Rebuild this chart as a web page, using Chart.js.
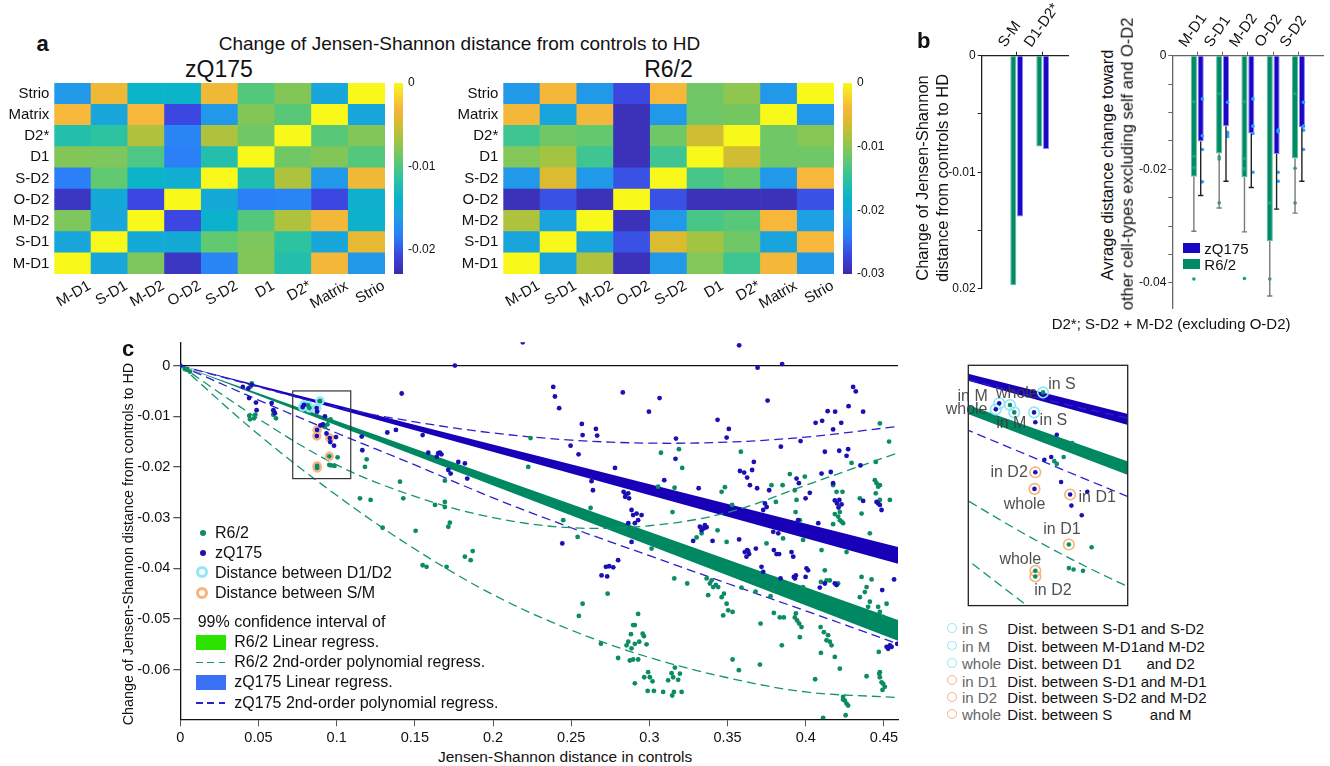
<!DOCTYPE html>
<html>
<head>
<meta charset="utf-8">
<title>Change of Jensen-Shannon distance</title>
<script src="https://cdn.jsdelivr.net/npm/chart.js@4.4.1/dist/chart.umd.min.js"></script>
<style>
  body { margin: 0; width: 1330px; height: 766px; overflow: hidden; background: #fff; position: relative;
         font-family: "Liberation Sans", Arial, Helvetica, sans-serif; color: #111; }
  canvas { position: absolute; }
  .t { position: absolute; white-space: pre; line-height: 1; transform: translateY(-50%); }
  .c { position: absolute; white-space: pre; line-height: 1; transform: translate(-50%, -50%); }
  .v { position: absolute; white-space: pre; line-height: 1; transform: translate(-50%, -50%) rotate(-90deg); }
  .b { font-weight: bold; font-size: 22px; }
  .dot { position: absolute; width: 6px; height: 6px; border-radius: 50%; }
  .ring { position: absolute; border-radius: 50%; border-style: solid; }
  .sw { position: absolute; }
  .dash { position: absolute; height: 1.5px; }
  .g { color: #666; }
</style>
</head>
<body>
<canvas id="heatZq" width="387" height="236" style="left:0;top:82.7px"></canvas>
<canvas id="barZq" width="50" height="207" style="left:394.3px;top:74.7px"></canvas>
<canvas id="heatR6" width="387" height="236" style="left:449px;top:82.7px"></canvas>
<canvas id="barR6" width="50" height="207" style="left:843.3px;top:74.7px"></canvas>
<canvas id="bLeft" width="143" height="300" style="left:930px;top:0"></canvas>
<canvas id="bRight" width="210" height="320" style="left:1120px;top:0"></canvas>
<canvas id="cMain" width="805" height="416" style="left:100px;top:330px"></canvas>
<canvas id="cInset" width="205" height="260" style="left:930px;top:355px"></canvas>

<div class="c b" style="left:42.5px;top:44px">a</div>
<div class="c" style="left:459.5px;top:42.7px;font-size:19px">Change of Jensen-Shannon distance from controls to HD</div>
<div class="c" style="left:219px;top:69.3px;font-size:23px">zQ175</div>
<div class="c" style="left:668.5px;top:69.3px;font-size:23px">R6/2</div>

<div class="c b" style="left:923.7px;top:41px">b</div>
<div class="v" style="left:921.7px;top:177.5px;font-size:16.5px">Change of Jensen-Shannon</div>
<div class="v" style="left:941.7px;top:177.5px;font-size:16.5px">distance from controls to HD</div>
<div class="v" style="left:1106.7px;top:164.5px;font-size:16.5px">Avrage distance change toward</div>
<div class="v" style="left:1126.7px;top:164px;font-size:16.5px">other cell-types excluding self and O-D2</div>
<div class="sw" style="left:1182.7px;top:243.3px;width:17.3px;height:9.4px;background:#1a07c4"></div>
<div class="t" style="left:1204.3px;top:248px;font-size:15px">zQ175</div>
<div class="sw" style="left:1182.7px;top:259.3px;width:17.3px;height:9.4px;background:#008a66"></div>
<div class="t" style="left:1204.3px;top:264px;font-size:15px">R6/2</div>
<div class="t" style="left:1051.7px;top:322.7px;font-size:15px">D2*; S-D2 + M-D2 (excluding O-D2)</div>

<div class="c b" style="left:128px;top:348.5px">c</div>
<div class="v" style="left:128.3px;top:544px;font-size:14.3px">Change of Jensen-Shannon distance from controls to HD</div>
<div class="t" style="left:438px;top:757px;font-size:15.5px">Jensen-Shannon distance in controls</div>

<div class="dot" style="left:199.7px;top:530.3px;background:#0b8c65"></div>
<div class="t" style="left:215px;top:533.3px;font-size:16px">R6/2</div>
<div class="dot" style="left:199.7px;top:549.7px;background:#1a10b4"></div>
<div class="t" style="left:215px;top:552.7px;font-size:16px">zQ175</div>
<div class="ring" style="left:196.2px;top:566.2px;width:6px;height:6px;border-width:3.5px;border-color:#8fe6f8"></div>
<div class="t" style="left:215px;top:572.7px;font-size:16px">Distance between D1/D2</div>
<div class="ring" style="left:196.2px;top:586.8px;width:6px;height:6px;border-width:3.5px;border-color:#f8b27c"></div>
<div class="t" style="left:215px;top:593.3px;font-size:16px">Distance between S/M</div>
<div class="t" style="left:197.7px;top:621.7px;font-size:16px">99% confidence interval of</div>
<div class="sw" style="left:196px;top:635px;width:29.7px;height:15px;background:#2ce300"></div>
<div class="t" style="left:234.3px;top:642.3px;font-size:16px">R6/2 Linear regress.</div>
<div class="dash" style="left:196px;top:661.5px;width:29px;background:repeating-linear-gradient(90deg,#12956b 0 7px,transparent 7px 11.5px)"></div>
<div class="t" style="left:234.3px;top:662.3px;font-size:16px">R6/2 2nd-order polynomial regress.</div>
<div class="sw" style="left:196px;top:675px;width:29.7px;height:15px;background:#3b72f5"></div>
<div class="t" style="left:234.3px;top:682.3px;font-size:16px">zQ175 Linear regress.</div>
<div class="dash" style="left:196px;top:702px;width:29px;background:repeating-linear-gradient(90deg,#2a20cc 0 7px,transparent 7px 11.5px)"></div>
<div class="t" style="left:234.3px;top:702.7px;font-size:16px">zQ175 2nd-order polynomial regress.</div>

<div class="ring" style="left:947px;top:623px;width:7.7px;height:7.7px;border-width:1.5px;border-color:#8fe6f8"></div>
<div class="t g" style="left:962px;top:628.3px;font-size:15px">in S</div>
<div class="t" style="left:1007.3px;top:628.3px;font-size:15px">Dist. between S-D1 and S-D2</div>
<div class="ring" style="left:947px;top:640.7px;width:7.7px;height:7.7px;border-width:1.5px;border-color:#8fe6f8"></div>
<div class="t g" style="left:962px;top:646px;font-size:15px">in M</div>
<div class="t" style="left:1007.3px;top:646px;font-size:15px">Dist. between M-D1and M-D2</div>
<div class="ring" style="left:947px;top:658px;width:7.7px;height:7.7px;border-width:1.5px;border-color:#8fe6f8"></div>
<div class="t g" style="left:962px;top:663.3px;font-size:15px">whole</div>
<div class="t" style="left:1007.3px;top:663.3px;font-size:15px">Dist. between D1      and D2</div>
<div class="ring" style="left:947px;top:675.4px;width:7.7px;height:7.7px;border-width:1.5px;border-color:#f8b27c"></div>
<div class="t g" style="left:962px;top:680.7px;font-size:15px">in D1</div>
<div class="t" style="left:1007.3px;top:680.7px;font-size:15px">Dist. between S-D1 and M-D1</div>
<div class="ring" style="left:947px;top:692px;width:7.7px;height:7.7px;border-width:1.5px;border-color:#f8b27c"></div>
<div class="t g" style="left:962px;top:697.3px;font-size:15px">in D2</div>
<div class="t" style="left:1007.3px;top:697.3px;font-size:15px">Dist. between S-D2 and M-D2</div>
<div class="ring" style="left:947px;top:709px;width:7.7px;height:7.7px;border-width:1.5px;border-color:#f8b27c"></div>
<div class="t g" style="left:962px;top:714.3px;font-size:15px">whole</div>
<div class="t" style="left:1007.3px;top:714.3px;font-size:15px">Dist. between S         and M</div>

<script>
Chart.defaults.font.family = '"Liberation Sans", Arial, Helvetica, sans-serif';
Chart.defaults.color = '#111';
Chart.defaults.responsive = false;
Chart.defaults.animation = false;
Chart.defaults.events = [];
Chart.defaults.plugins.legend.display = false;
Chart.defaults.plugins.tooltip.enabled = false;

// ---------- panel a: distance change matrices ----------
var cellTypes = ['M-D1', 'S-D1', 'M-D2', 'O-D2', 'S-D2', 'D1', 'D2*', 'Matrix', 'Strio'];
// rows from top of the map (Strio) down to M-D1, columns in cellTypes order
var zq175Map = [
  [-0.0165, -0.0034, -0.0137, -0.0137, -0.0034, -0.0098, -0.0080, -0.0153, 0],
  [-0.0030, -0.0153, -0.0030, -0.0206, -0.0165, -0.0080, -0.0096, 0, -0.0153],
  [-0.0121, -0.0115, -0.0064, -0.0179, -0.0064, -0.0087, 0, -0.0096, -0.0080],
  [-0.0080, -0.0082, -0.0101, -0.0183, -0.0121, 0, -0.0087, -0.0080, -0.0098],
  [-0.0183, -0.0092, -0.0137, -0.0144, 0, -0.0124, -0.0064, -0.0165, -0.0034],
  [-0.0218, -0.0149, -0.0206, 0, -0.0149, -0.0183, -0.0179, -0.0206, -0.0142],
  [-0.0082, -0.0153, 0, -0.0206, -0.0140, -0.0098, -0.0064, -0.0032, -0.0140],
  [-0.0153, 0, -0.0149, -0.0147, -0.0092, -0.0082, -0.0115, -0.0153, -0.0039],
  [0, -0.0153, -0.0082, -0.0218, -0.0179, -0.0080, -0.0121, -0.0032, -0.0165]
];
var r62Map = [
  [-0.0216, -0.0042, -0.0216, -0.0270, -0.0039, -0.0114, -0.0099, -0.0216, 0],
  [-0.0042, -0.0201, -0.0042, -0.0291, -0.0216, -0.0114, -0.0111, 0, -0.0216],
  [-0.0141, -0.0114, -0.0120, -0.0291, -0.0114, -0.0066, 0, -0.0114, -0.0102],
  [-0.0105, -0.0090, -0.0141, -0.0291, -0.0141, 0, -0.0066, -0.0114, -0.0114],
  [-0.0216, -0.0060, -0.0216, -0.0264, 0, -0.0135, -0.0120, -0.0216, -0.0039],
  [-0.0291, -0.0264, -0.0291, 0, -0.0264, -0.0291, -0.0291, -0.0291, -0.0264],
  [-0.0084, -0.0204, 0, -0.0291, -0.0216, -0.0135, -0.0126, -0.0039, -0.0210],
  [-0.0201, 0, -0.0201, -0.0264, -0.0060, -0.0090, -0.0114, -0.0201, -0.0039],
  [0, -0.0201, -0.0084, -0.0291, -0.0216, -0.0105, -0.0141, -0.0042, -0.0216]
];
var zq175Min = -0.0229;
var r62Min = -0.03;
var zq175BarTicks = [0, -0.01, -0.02];
var r62BarTicks = [0, -0.01, -0.02, -0.03];

// ---------- panel b ----------
var bLeftCats = ['S-M', 'D1-D2*'];
var bLeftR62 = [-0.0197, -0.0078];
var bLeftZq175 = [-0.0138, -0.0080];
var bLeftTickVals = [0, -0.005, -0.01, -0.015, -0.02];
var bLeftTickText = ['0', '', '-0.01', '', '0.02'];

var bRightCats = ['M-D1', 'S-D1', 'M-D2', 'O-D2', 'S-D2'];
var bRightR62 = [-0.0213, -0.0172, -0.0214, -0.0326, -0.0181];
var bRightZq175 = [-0.0151, -0.0124, -0.0137, -0.0173, -0.0126];
var bRightR62Low = [-0.0309, -0.0268, -0.0310, -0.0423, -0.0277];
var bRightZq175Low = [-0.0246, -0.0221, -0.0232, -0.0270, -0.0221];
var bRightR62Dots = [
  [-0.0081, -0.0177, -0.0197, -0.0393],
  [-0.0067, -0.0178, -0.0182, -0.0259],
  [-0.0081, -0.0181, -0.0199, -0.0392],
  [-0.0259, -0.0393],
  [-0.0067, -0.0198, -0.0259]
];
var bRightZq175Dots = [
  [-0.0076, -0.0141, -0.0165, -0.0222],
  [-0.0082, -0.0135, -0.0138, -0.0142],
  [-0.0076, -0.0124, -0.0137, -0.0205],
  [-0.0131, -0.0134, -0.0205, -0.0221],
  [-0.0082, -0.0124, -0.0131, -0.0165]
];
var bRightTickVals = [0, -0.005, -0.01, -0.015, -0.02, -0.025, -0.03, -0.035, -0.04];
var bRightTickText = ['0', '', '', '', '-0.02', '', '', '', '-0.04'];

// ---------- panel c ----------
var xTickVals = [0, 0.05, 0.1, 0.15, 0.2, 0.25, 0.3, 0.35, 0.4, 0.45];
var xTickText = ['0', '0.05', '0.1', '0.15', '0.2', '0.25', '0.3', '0.35', '0.4', '0.45'];
var yTickVals = [0, -0.01, -0.02, -0.03, -0.04, -0.05, -0.06];
var yTickText = ['0', '-0.01', '-0.02', '-0.03', '-0.04', '-0.05', '-0.06'];

var linX = [0, 0.459];
var r62LinHi = [0, -0.0502];
var r62LinLo = [0, -0.0543];
var zq175LinHi = [0, -0.0358];
var zq175LinLo = [0, -0.0391];

var polyX = [0, 0.05, 0.1, 0.15, 0.2, 0.25, 0.3, 0.35, 0.4, 0.459];
var r62PolyHi = [0, -0.0105, -0.0196, -0.0258, -0.0300, -0.0320, -0.0316, -0.0290, -0.0236, -0.0172];
var r62PolyLo = [0, -0.0136, -0.0256, -0.0362, -0.0452, -0.0522, -0.0576, -0.0616, -0.0644, -0.0655];
var zq175PolyHi = [0, -0.0042, -0.0082, -0.0111, -0.0133, -0.0147, -0.0153, -0.0151, -0.0141, -0.0120];
var zq175PolyLo = [0, -0.0068, -0.0133, -0.0196, -0.0261, -0.0320, -0.0375, -0.0430, -0.0484, -0.0549];

var zq175Points = [
  [0, 0], [0.040, -0.0042], [0.0435, -0.0045], [0.0457, -0.0038], [0.044, -0.0064], [0.0484, -0.0073],
  [0.0488, -0.0088], [0.0584, -0.0074], [0.0595, -0.0088], [0.0605, -0.0094],
  [0.0791, -0.00774], [0.0783, -0.00817], [0.0872, -0.00839], [0.0875, -0.0127], [0.0873, -0.0139],
  [0.0956, -0.0143], [0.0875, -0.0091], [0.0925, -0.0100], [0.0912, -0.0116], [0.0896, -0.0118],
  [0.0935, -0.0134], [0.0996, -0.0141], [0.0959, -0.0151], [0.0983, -0.0158],
  [0.116, -0.0140], [0.1164, -0.0167], [0.1324, -0.0132], [0.1379, -0.0127], [0.1416, -0.0055],
  [0.155, -0.0137], [0.1586, -0.0172], [0.164, -0.0180], [0.165, -0.0173], [0.166, -0.0172],
  [0.167, -0.0175], [0.1714, -0.0206], [0.1729, -0.0213], [0.1778, -0.0190], [0.182, -0.0193],
  [0.1835, -0.0223], [0.1756, 0.0],
  [0.219, 0.0046], [0.2385, -0.0042], [0.2396, -0.0061], [0.2423, -0.0084], [0.2443, -0.0351],
  [0.2496, -0.0158], [0.2547, -0.0175], [0.2568, -0.0115], [0.2573, -0.0137], [0.2658, -0.0125],
  [0.2666, -0.0138], [0.263, -0.0228], [0.2639, -0.0246], [0.278, -0.0202], [0.283, -0.0053],
  [0.2835, -0.0249], [0.285, -0.0254], [0.2865, -0.0252], [0.2845, -0.0259], [0.287, -0.0262],
  [0.2886, -0.0285], [0.2896, -0.0295], [0.2918, -0.0292], [0.2928, -0.0305], [0.2907, -0.0311],
  [0.295, -0.0295], [0.2865, -0.0311], [0.2886, -0.0348],
  [0.2694, -0.0414], [0.2722, -0.0397], [0.2743, -0.0396], [0.2769, -0.0398], [0.273, -0.0416], [0.28, -0.0384],
  [0.2997, -0.0091], [0.3065, -0.0064], [0.3095, -0.0226], [0.317, -0.0144], [0.3167, -0.0184],
  [0.328, -0.0346], [0.3315, -0.0242], [0.3323, -0.0318], [0.3334, -0.0325], [0.3355, -0.0315],
  [0.3366, -0.0319], [0.3349, -0.0321], [0.3404, -0.0346],
  [0.3436, -0.0107], [0.3494, -0.0142], [0.3508, -0.0125], [0.3574, 0.0040], [0.3574, -0.0343],
  [0.3579, -0.0208], [0.3606, -0.0211], [0.3625, -0.0221], [0.3643, -0.0236], [0.3668, -0.0190],
  [0.3689, -0.0242], [0.3657, -0.0206],
  [0.361, -0.0368], [0.3625, -0.0364], [0.3638, -0.0372], [0.3621, -0.0377], [0.3681, -0.0361], [0.3632, -0.0366],
  [0.3692, -0.0004], [0.3739, -0.0272], [0.3728, -0.0285], [0.375, -0.0279], [0.3756, -0.0069],
  [0.3766, -0.0246], [0.3792, -0.0328], [0.3824, -0.0331], [0.3796, -0.0364], [0.3813, -0.0372],
  [0.383, -0.0372], [0.3839, -0.0420], [0.3717, -0.0397], [0.3728, -0.0407],
  [0.3841, -0.0160], [0.3849, 0.0003],
  [0.3909, -0.0368], [0.392, -0.0377], [0.3924, -0.0417], [0.3937, -0.0414], [0.3931, -0.0420],
  [0.3951, -0.0305], [0.3941, -0.0223], [0.3956, -0.0232], [0.4005, -0.0400], [0.4015, -0.0404], [0.3999, -0.0417],
  [0.3967, -0.0149], [0.3999, -0.0262], [0.4026, -0.0251], [0.408, -0.0311],
  [0.4063, -0.0113], [0.4105, -0.0109], [0.414, -0.0090], [0.4188, -0.0091], [0.4227, -0.0113],
  [0.4175, -0.0126], [0.4274, -0.0080], [0.4303, -0.0042], [0.432, -0.0051], [0.4367, -0.0091],
  [0.4122, -0.0170], [0.4214, -0.0168], [0.4261, -0.0178], [0.4271, -0.0165], [0.435, -0.0197],
  [0.4101, -0.0213], [0.416, -0.0210], [0.4175, -0.0232],
  [0.4186, -0.0266], [0.42, -0.0272], [0.4215, -0.0265], [0.4229, -0.0274], [0.421, -0.0280], [0.4367, -0.0267],
  [0.4453, -0.0269], [0.4474, -0.0275], [0.4485, -0.0285], [0.4463, -0.0272],
  [0.409, -0.0438], [0.4122, -0.0430], [0.4197, -0.0433], [0.4186, -0.0430], [0.4489, -0.0443], [0.4565, -0.0422],
  [0.4517, -0.0555], [0.4527, -0.0559], [0.4538, -0.0552], [0.4549, -0.0555], [0.4585, -0.0549]
];

var r62Points = [
  [0.003, -0.0007], [0.0045, -0.0008], [0.0062, -0.0012], [0.0457, -0.0035], [0.045, -0.0041],
  [0.0441, -0.0099], [0.0446, -0.0106], [0.048, -0.0097], [0.0471, -0.0104],
  [0.0599, -0.0091], [0.0612, -0.0104], [0.0595, -0.0097],
  [0.0816, -0.00786], [0.0826, -0.00839], [0.0893, -0.00695], [0.0953, -0.0179], [0.0875, -0.0198],
  [0.0875, -0.0202], [0.0961, -0.0106], [0.0941, -0.0116], [0.0919, -0.0119], [0.0925, -0.0121],
  [0.1006, -0.0181], [0.0953, -0.0196], [0.0964, -0.0197], [0.0986, -0.0198],
  [0.1192, -0.0185], [0.1181, -0.0200], [0.1149, -0.0262], [0.1217, -0.0265], [0.1294, -0.0320],
  [0.1405, -0.0229], [0.1426, -0.0262], [0.1505, -0.0326], [0.155, -0.0394], [0.1575, -0.0397],
  [0.1629, -0.0275], [0.1692, -0.0269], [0.1692, -0.0279], [0.1692, -0.0227], [0.1714, -0.0318],
  [0.1724, -0.0310], [0.1703, -0.0397], [0.182, -0.0377], [0.1857, -0.0384], [0.187, -0.0366],
  [0.2225, -0.0200], [0.224, -0.0143], [0.2449, -0.0305], [0.2541, -0.0338], [0.2573, -0.0470],
  [0.2549, -0.0494], [0.2624, -0.0281], [0.269, -0.0549], [0.2733, -0.0450], [0.28, -0.0577],
  [0.2854, -0.0552], [0.2865, -0.0545], [0.2882, -0.0530], [0.2886, -0.0558], [0.2896, -0.0512],
  [0.2907, -0.0512], [0.2907, -0.0549], [0.2928, -0.0490], [0.2935, -0.0545], [0.2957, -0.0529],
  [0.2965, -0.0534], [0.2982, -0.0550], [0.2875, -0.0582], [0.2896, -0.0580], [0.2928, -0.0580], [0.2907, -0.0627],
  [0.2967, -0.0615], [0.2992, -0.0605], [0.3003, -0.0615], [0.302, -0.0623], [0.2989, -0.0642],
  [0.3029, -0.0642], [0.3088, -0.0644],
  [0.3014, -0.0361], [0.3056, -0.0239], [0.3074, -0.0172], [0.3148, -0.0289],
  [0.312, -0.0621], [0.3152, -0.0615], [0.3142, -0.0607], [0.3163, -0.0596], [0.3184, -0.0620],
  [0.3195, -0.0608], [0.3146, -0.0651], [0.3157, -0.0644], [0.3206, -0.0644],
  [0.3159, -0.0420], [0.3189, -0.0165], [0.321, -0.0202], [0.3161, -0.0241], [0.3242, -0.0430],
  [0.3302, -0.0339], [0.3334, -0.0331],
  [0.3366, -0.0420], [0.3387, -0.0430], [0.3408, -0.0437], [0.3425, -0.0433], [0.344, -0.0437], [0.3398, -0.0424],
  [0.3376, -0.0453], [0.3462, -0.0457], [0.3477, -0.0450], [0.3494, -0.0470], [0.3504, -0.0483],
  [0.3472, -0.0493], [0.3532, -0.0486],
  [0.3436, -0.0325], [0.3462, -0.0249], [0.3483, -0.0240], [0.3494, -0.0348], [0.3529, -0.0275],
  [0.3532, -0.0580], [0.3572, -0.0601], [0.3585, -0.0170],
  [0.3589, -0.0438], [0.3664, -0.0423], [0.3679, -0.0446], [0.3711, -0.0509], [0.3749, -0.0351],
  [0.3796, -0.0488], [0.3834, -0.0497], [0.386, -0.0497], [0.3775, -0.0455], [0.3788, -0.0443], [0.3809, -0.0430],
  [0.3707, -0.0590], [0.3781, -0.0236], [0.3852, -0.0236], [0.3898, -0.0214], [0.3809, -0.0269],
  [0.393, -0.0246], [0.3941, -0.0265], [0.3847, -0.0552], [0.3855, -0.0341],
  [0.3937, -0.0489], [0.3945, -0.0503], [0.3958, -0.0509], [0.3973, -0.0516], [0.393, -0.0497], [0.3962, -0.0536],
  [0.3983, -0.0437], [0.3994, -0.0219], [0.3983, -0.0344], [0.3935, -0.0289], [0.3962, -0.0305],
  [0.4101, -0.0364], [0.4097, -0.0427], [0.4122, -0.0404], [0.4133, -0.0424], [0.4154, -0.0424],
  [0.4095, -0.0516], [0.4116, -0.0526], [0.4143, -0.0532], [0.4154, -0.0545], [0.4165, -0.0552], [0.4133, -0.0542],
  [0.4097, -0.0567], [0.406, -0.0619], [0.4111, -0.0695],
  [0.4175, -0.0236], [0.4197, -0.0249], [0.4235, -0.0249], [0.4186, -0.0293], [0.4207, -0.0298],
  [0.4218, -0.0305], [0.4229, -0.0308], [0.4239, -0.0311], [0.4218, -0.0289], [0.4175, -0.0313],
  [0.4186, -0.0575], [0.4218, -0.0598], [0.4239, -0.0654], [0.425, -0.0661], [0.4261, -0.0667],
  [0.4271, -0.0671], [0.4255, -0.0690], [0.4239, -0.0659],
  [0.4261, -0.0368], [0.4207, -0.0430], [0.4293, -0.0192], [0.4346, -0.0262], [0.4357, -0.0292],
  [0.4357, -0.0417], [0.4346, -0.0457], [0.4378, -0.0447], [0.4389, -0.0437], [0.441, -0.0466],
  [0.4421, -0.0422], [0.4399, -0.0476], [0.441, -0.0331], [0.4389, -0.0613],
  [0.4442, -0.0226], [0.4453, -0.0232], [0.4463, -0.0239], [0.4474, -0.0236], [0.4448, -0.0252],
  [0.4474, -0.0114], [0.4448, -0.0190], [0.4474, -0.0265], [0.4533, -0.0150], [0.4538, -0.0265],
  [0.4463, -0.0476], [0.4474, -0.0486], [0.4517, -0.0470], [0.4495, -0.0496],
  [0.4467, -0.0565], [0.447, -0.0608], [0.4474, -0.0615], [0.4485, -0.0625], [0.4495, -0.0628],
  [0.4506, -0.0634], [0.4491, -0.0640], [0.4474, -0.0605]
];

// points ringed as distances between D1/D2 (cyan) and between S/M (orange)
var d1d2Pairs = [[0.0791, -0.00774], [0.0783, -0.00817], [0.0872, -0.00839], [0.0816, -0.00786], [0.0826, -0.00839], [0.0893, -0.00695]];
var smPairs = [[0.0875, -0.0127], [0.0873, -0.0139], [0.0956, -0.0143], [0.0953, -0.0179], [0.0875, -0.0198], [0.0875, -0.0202]];

// zoomed region [xMin, xMax, yMin, yMax]
var zoomBox = [0.0719, 0.109, -0.0223, -0.005];
var insetLabels = [
  ['in M', 0.0729, -0.00726], ['whole', 0.0715, -0.00817], ['whole', 0.0832, -0.00702], ['in S', 0.0937, -0.00642],
  ['in M', 0.0819, -0.00918], ['in S', 0.0917, -0.00899], ['in D2', 0.0814, -0.01274], ['whole', 0.0850, -0.0150],
  ['in D1', 0.1019, -0.01451], ['in D1', 0.0937, -0.0168], ['whole', 0.0840, -0.01896], ['in D2', 0.0916, -0.0212]
];

var GREEN = '#008a66', BLUE = '#1a07c4';
var GREEN_BAND = '#008862', BLUE_BAND = '#1700b8';
var GREEN_DOT = '#0b8c65', BLUE_DOT = '#1a10b4';
var GREEN_DASH = '#12956b', BLUE_DASH = '#2a20cc';
var CYAN = '#8fe6f8', ORANGE = '#f8b27c';

// colormap (low -> high), similar to parula
var parula = [
  [0.00, '#3b2aa8'], [0.10, '#3c46e0'], [0.20, '#2b7ff7'], [0.30, '#1f9fe4'], [0.40, '#0ab4c9'],
  [0.50, '#2ec3a0'], [0.60, '#62c96e'], [0.70, '#a2c442'], [0.80, '#dcbb30'], [0.87, '#f7b73a'], [1.00, '#f8f81a']
];

function hex(c) { return [1, 3, 5].map(function (i) { return parseInt(c.slice(i, i + 2), 16); }); }
function colorAt(t) {
  t = Math.max(0, Math.min(1, t));
  for (var i = 1; i < parula.length; i++) {
    if (t <= parula[i][0]) {
      var t0 = parula[i - 1][0], t1 = parula[i][0];
      var a = hex(parula[i - 1][1]), b = hex(parula[i][1]);
      var f = (t - t0) / (t1 - t0);
      return 'rgb(' + a.map(function (v, k) { return Math.round(v + (b[k] - v) * f); }).join(',') + ')';
    }
  }
  return parula[parula.length - 1][1];
}

function heatmap(id, rows, vmin) {
  var bottomUp = rows.slice().reverse();
  new Chart(document.getElementById(id), {
    type: 'bar',
    data: {
      labels: cellTypes,
      datasets: bottomUp.map(function (row) {
        return {
          data: row.map(function () { return 1; }),
          backgroundColor: row.map(function (v) { return colorAt(1 - v / vmin); }),
          borderWidth: 0, barPercentage: 1, categoryPercentage: 1
        };
      })
    },
    options: {
      layout: { padding: { right: 2 } },
      scales: {
        x: {
          stacked: true,
          grid: { display: false, drawTicks: false }, border: { display: false },
          ticks: { font: { size: 15 }, minRotation: 30, maxRotation: 30, labelOffset: 17, padding: 3, autoSkip: false },
          afterFit: function (s) { s.height = 45; s.paddingLeft = 0; s.paddingRight = 0; }
        },
        y: {
          stacked: true, min: 0, max: cellTypes.length,
          grid: { display: false, drawTicks: false }, border: { display: false },
          afterBuildTicks: function (s) { s.ticks = cellTypes.map(function (n, i) { return { value: i + 0.5 }; }); },
          ticks: { font: { size: 15 }, padding: 5, autoSkip: false, callback: function (v, i) { return cellTypes[i]; } },
          afterFit: function (s) { s.width = 54.3; s.paddingTop = 0; s.paddingBottom = 0; }
        }
      }
    }
  });
}

function colorbar(id, vmin, ticks) {
  new Chart(document.getElementById(id), {
    type: 'bar',
    data: { labels: [''], datasets: [{ data: [] }] },
    options: {
      layout: { padding: { top: 8, bottom: 8 } },
      scales: {
        x: { display: false },
        y: {
          position: 'right', min: vmin, max: 0,
          grid: { display: false, drawTicks: false }, border: { display: false },
          afterBuildTicks: function (s) { s.ticks = ticks.map(function (v) { return { value: v }; }); },
          ticks: { font: { size: 12 }, padding: 5, callback: function (v) { return v === 0 ? '0' : v.toFixed(2); } },
          afterFit: function (s) { s.width = 41; s.paddingTop = 0; s.paddingBottom = 0; }
        }
      }
    },
    plugins: [{
      id: 'gradient',
      beforeDatasetsDraw: function (chart) {
        var ctx = chart.ctx, a = chart.chartArea, y = chart.scales.y;
        var g = ctx.createLinearGradient(0, y.getPixelForValue(vmin), 0, y.getPixelForValue(0));
        parula.forEach(function (s) { g.addColorStop(s[0], s[1]); });
        ctx.save(); ctx.fillStyle = g; ctx.fillRect(a.left, a.top, a.right - a.left, a.bottom - a.top); ctx.restore();
      }
    }]
  });
}

heatmap('heatZq', zq175Map, zq175Min);
heatmap('heatR6', r62Map, r62Min);
colorbar('barZq', zq175Min, zq175BarTicks);
colorbar('barR6', r62Min, r62BarTicks);

// ---------- panel b ----------
function dotData(groups, shift) {
  var out = [];
  groups.forEach(function (g, i) { g.forEach(function (v) { out.push({ x: i + shift, y: v }); }); });
  return out;
}
function barData(vals) { return vals.map(function (v, i) { return { x: i, y: v }; }); }

function barScales(cats, xMin, xMax, yMin, tickVals, tickText, yWidth, axisColor) {
  return {
    x: {
      type: 'linear', position: 'top', min: xMin, max: xMax, offset: false,
      afterBuildTicks: function (s) { s.ticks = cats.map(function (c, i) { return { value: i }; }); },
      ticks: { font: { size: 15 }, minRotation: 55, maxRotation: 55, padding: 1, autoSkip: false,
               callback: function (v, i) { return cats[i]; } },
      grid: { drawOnChartArea: false, offset: false, tickLength: 4, color: axisColor },
      border: { color: axisColor, width: 1.3 },
      afterFit: function (s) { s.height = 55.7; s.paddingLeft = 0; s.paddingRight = 0; }
    },
    y: {
      min: yMin, max: 0,
      afterBuildTicks: function (s) { s.ticks = tickVals.map(function (v) { return { value: v }; }); },
      ticks: { font: { size: 12 }, padding: 2, autoSkip: false, callback: function (v, i) { return tickText[i]; } },
      grid: { drawOnChartArea: false, tickLength: 4, color: axisColor },
      border: { color: axisColor, width: 1.3 },
      afterFit: function (s) { s.width = yWidth; s.paddingTop = 0; s.paddingBottom = 0; }
    }
  };
}

new Chart(document.getElementById('bLeft'), {
  type: 'bar',
  data: {
    datasets: [
      { data: barData(bLeftR62), backgroundColor: GREEN, borderColor: '#5dbd9b', borderWidth: 1,
        categoryPercentage: 0.52, barPercentage: 0.9 },
      { data: barData(bLeftZq175), backgroundColor: BLUE, borderColor: '#8a80ff', borderWidth: 1,
        categoryPercentage: 0.52, barPercentage: 0.9 }
    ]
  },
  options: {
    layout: { padding: { right: 4.7, bottom: 11.3 } },
    scales: barScales(bLeftCats, -1.346, 1.985, -0.02, bLeftTickVals, bLeftTickText, 51.7, '#222')
  }
});

new Chart(document.getElementById('bRight'), {
  type: 'bar',
  data: {
    datasets: [
      { type: 'scatter', data: dotData(bRightR62Dots, -0.135), backgroundColor: '#17a673', borderWidth: 0, pointRadius: 1.8, order: 0 },
      { type: 'scatter', data: dotData(bRightZq175Dots, 0.2), backgroundColor: '#2f9dff', borderWidth: 0, pointRadius: 1.8, order: 0 },
      { data: barData(bRightR62), backgroundColor: GREEN, borderColor: '#5dbd9b', borderWidth: 1,
        categoryPercentage: 0.54, barPercentage: 0.9, order: 1 },
      { data: barData(bRightZq175), backgroundColor: BLUE, borderColor: '#8a80ff', borderWidth: 1,
        categoryPercentage: 0.54, barPercentage: 0.9, order: 1 }
    ]
  },
  options: {
    layout: { padding: { right: 7, bottom: 12 } },
    scales: barScales(bRightCats, -0.988, 4.97, -0.0444, bRightTickVals, bRightTickText, 52.3, '#666')
  },
  plugins: [{
    id: 'errorBars',
    afterDatasetsDraw: function (chart) {
      var ctx = chart.ctx, y = chart.scales.y;
      [[2, bRightR62Low, '#7a7a7a'], [3, bRightZq175Low, '#222']].forEach(function (set) {
        chart.getDatasetMeta(set[0]).data.forEach(function (bar, i) {
          var y1 = y.getPixelForValue(set[1][i]);
          ctx.save(); ctx.strokeStyle = set[2]; ctx.lineWidth = 1.4;
          ctx.beginPath(); ctx.moveTo(bar.x, bar.y); ctx.lineTo(bar.x, y1);
          ctx.moveTo(bar.x - 2.6, y1); ctx.lineTo(bar.x + 2.6, y1); ctx.stroke(); ctx.restore();
        });
      });
    }
  }]
});

// ---------- panel c ----------
function cSets(dotR, ringR, ringW) {
  function xy(pairs) { return pairs.map(function (p) { return { x: p[0], y: p[1] }; }); }
  function curve(xs, ys) { return xs.map(function (x, i) { return { x: x, y: ys[i] }; }); }
  function band(hi, lo, color) {
    return [
      { type: 'line', data: curve(linX, hi), borderColor: 'transparent', borderWidth: 0, pointRadius: 0, fill: false, order: 6 },
      { type: 'line', data: curve(linX, lo), borderColor: 'transparent', borderWidth: 0, pointRadius: 0, fill: '-1',
        backgroundColor: color, order: 6 }
    ];
  }
  function dashed(ys, color) {
    return { type: 'line', data: curve(polyX, ys), borderColor: color, borderWidth: 1.3, borderDash: [9, 5],
             tension: 0.35, pointRadius: 0, fill: false, order: 5 };
  }
  function dots(pairs, color, order) {
    return { type: 'scatter', data: xy(pairs), backgroundColor: color, borderWidth: 0, pointRadius: dotR, order: order };
  }
  function rings(pairs, color) {
    return { type: 'scatter', data: xy(pairs), backgroundColor: 'rgba(0,0,0,0)', borderColor: color,
             borderWidth: ringW, pointRadius: ringR, order: 4 };
  }
  return band(r62LinHi, r62LinLo, GREEN_BAND)
    .concat(band(zq175LinHi, zq175LinLo, BLUE_BAND))
    .concat([
      dashed(r62PolyHi, GREEN_DASH), dashed(r62PolyLo, GREEN_DASH),
      dashed(zq175PolyHi, BLUE_DASH), dashed(zq175PolyLo, BLUE_DASH),
      rings(d1d2Pairs, CYAN), rings(smPairs, ORANGE),
      dots(r62Points, GREEN_DOT, 3), dots(zq175Points, BLUE_DOT, 2)
    ]);
}

new Chart(document.getElementById('cMain'), {
  type: 'scatter',
  data: { datasets: cSets(2.4, 3.6, 2.2) },
  options: {
    layout: { padding: { top: 12.3, right: 7 } },
    scales: {
      x: {
        type: 'linear', min: 0, max: 0.459,
        afterBuildTicks: function (s) { s.ticks = xTickVals.map(function (v) { return { value: v }; }); },
        ticks: { font: { size: 14.5 }, padding: 3, maxRotation: 0, autoSkip: false,
                 callback: function (v, i) { return xTickText[i]; } },
        grid: { drawOnChartArea: false, tickLength: 7, tickColor: '#555' },
        border: { color: '#111', width: 1.3 },
        afterFit: function (s) { s.height = 26.7; s.paddingLeft = 0; s.paddingRight = 0; }
      },
      y: {
        min: -0.0698, max: 0.0046,
        afterBuildTicks: function (s) { s.ticks = yTickVals.map(function (v) { return { value: v }; }); },
        ticks: { font: { size: 14.5 }, padding: 3, autoSkip: false, callback: function (v, i) { return yTickText[i]; } },
        grid: { color: function (c) { return c.tick && c.tick.value === 0 ? '#111' : 'rgba(0,0,0,0)'; },
                lineWidth: 1.3, tickLength: 7, tickColor: '#555' },
        border: { color: '#111', width: 1.3 },
        afterFit: function (s) { s.width = 80.3; s.paddingTop = 0; s.paddingBottom = 0; }
      }
    }
  },
  plugins: [{
    id: 'zoomBox',
    afterDatasetsDraw: function (chart) {
      var ctx = chart.ctx, x = chart.scales.x, y = chart.scales.y;
      var l = x.getPixelForValue(zoomBox[0]), r = x.getPixelForValue(zoomBox[1]);
      var t = y.getPixelForValue(zoomBox[3]), b = y.getPixelForValue(zoomBox[2]);
      ctx.save(); ctx.strokeStyle = '#333'; ctx.lineWidth = 1.2; ctx.strokeRect(l, t, r - l, b - t); ctx.restore();
    }
  }]
});

new Chart(document.getElementById('cInset'), {
  type: 'scatter',
  data: { datasets: cSets(2.3, 5.3, 1.6) },
  options: {
    layout: { padding: { left: 38.3, top: 10.3, right: 7.3, bottom: 9.4 } },
    scales: {
      x: { display: false, min: zoomBox[0], max: zoomBox[1] },
      y: { display: false, min: zoomBox[2], max: zoomBox[3] }
    }
  },
  plugins: [{
    id: 'insetFrame',
    afterDraw: function (chart) {
      var ctx = chart.ctx, a = chart.chartArea, x = chart.scales.x, y = chart.scales.y;
      ctx.save();
      ctx.strokeStyle = '#222'; ctx.lineWidth = 1.3;
      ctx.strokeRect(a.left, a.top, a.right - a.left, a.bottom - a.top);
      ctx.font = '16px "Liberation Sans", Arial, sans-serif';
      ctx.fillStyle = 'rgba(60,60,60,0.9)'; ctx.textAlign = 'center'; ctx.textBaseline = 'middle';
      insetLabels.forEach(function (l) { ctx.fillText(l[0], x.getPixelForValue(l[1]), y.getPixelForValue(l[2])); });
      ctx.restore();
    }
  }]
});
</script>
</body>
</html>
